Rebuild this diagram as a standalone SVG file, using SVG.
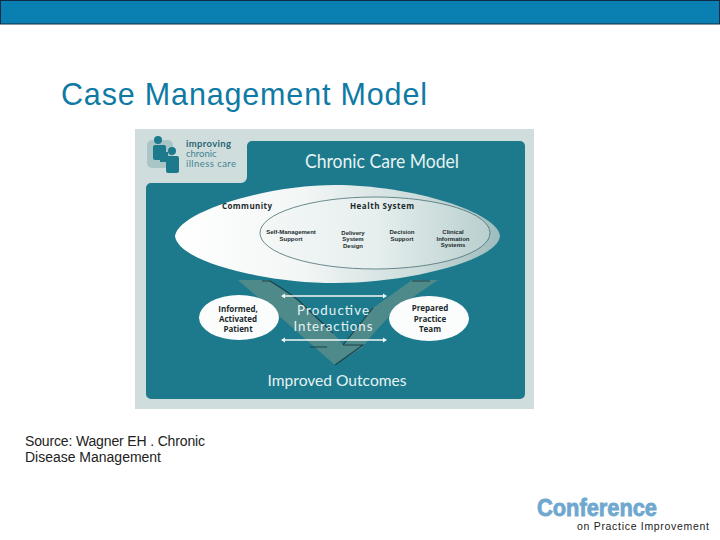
<svg xmlns="http://www.w3.org/2000/svg" width="720" height="540" viewBox="0 0 720 540">
<style>
.s{font-family:"Liberation Sans",Arial,sans-serif}
.l{font-family:Lato,"Open Sans",sans-serif}
.b{font-family:"Open Sans","Liberation Sans",sans-serif;font-weight:700;fill:#1c2a2c;text-anchor:middle}
.t{font-family:"Liberation Sans",Arial,sans-serif;font-weight:700;fill:#1c2a2c;text-anchor:middle;font-size:6px}
.w{font-family:Lato,"Open Sans",sans-serif;fill:#e6f2f3;text-anchor:middle}
.cr{fill:none;stroke:#1c3f48;stroke-width:1.100}
</style>
<defs>
<linearGradient id="g" x1="0" x2="1" y1="0" y2="0"><stop offset="0" stop-color="#ffffff"/><stop offset="0.4" stop-color="#f2f6f5"/><stop offset="0.75" stop-color="#cbdcdb"/><stop offset="1" stop-color="#9dbcbd"/></linearGradient>
<linearGradient id="g2" x1="0" x2="1" y1="0" y2="0"><stop offset="0" stop-color="#f4f8f7"/><stop offset="0.5" stop-color="#e6efee"/><stop offset="1" stop-color="#b9cfcf"/></linearGradient>
</defs>
<rect x="0.500" y="0.500" width="719" height="23.500" fill="#0a80b2" stroke="#0e2a45" stroke-width="1"/>
<text class="s" x="61" y="104.500" font-size="30.500" fill="#0f7aa5" textLength="366">Case Management Model</text>
<g id="chart">
<rect x="135" y="129" width="399" height="280" fill="#cfdedd"/>
<path d="M252 141H520a5 5 0 0 1 5 5V394a5 5 0 0 1-5 5H151a5 5 0 0 1-5-5V188a5 5 0 0 1 5-5H241a6 6 0 0 0 6-6V146a5 5 0 0 1 5-5z" fill="#1c7a8c"/>
<g id="logo">
<rect x="147" y="140" width="26" height="28" rx="5" fill="#a9c5c6"/>
<circle cx="158" cy="140" r="4" fill="#1c7a8c"/>
<rect x="153" y="145" width="13" height="15" rx="2" fill="#1c7a8c"/>
<rect x="160" y="152" width="8" height="10" fill="#1c7a8c"/>
<circle cx="172" cy="151" r="4" fill="#1c7a8c"/>
<rect x="166" y="156" width="13" height="17" rx="2" fill="#1c7a8c"/>
<text class="l" x="186" y="147" font-size="9.500" font-weight="700" fill="#2a6675" textLength="45">improving</text>
<text class="l" x="186" y="157" font-size="9.500" fill="#3f8290">chronic</text>
<text class="l" x="186" y="167" font-size="9.500" fill="#3f8290" textLength="50">illness care</text>
</g>
<text class="w" x="382" y="168" font-size="19" textLength="154" lengthAdjust="spacingAndGlyphs">Chronic Care Model</text>
<g id="connectors">
<path d="M238 280H268L298 300 333 333 343 345 373 308 412 280H438L397 308 372 335 363 347 335 365Z" fill="#4f8a8a"/>
<path class="cr" d="M262 281H270Q288 292 298 300L333 333M412 281H430M343 345L373 308M343 345H363L335 365M310 347H327"/>
<path d="M283 296H385M283 340H385" fill="none" stroke="#f2f7f7" stroke-width="1.500"/>
<path d="M281 296l4-2.500v5zM387 296l-4-2.500v5zM281 340l4-2.500v5zM387 340l-4-2.500v5z" fill="#f2f7f7"/>
</g>
<g id="community">
<path d="M175 236C178 212 265 185 335 185C410 185 498 212 500 236C498 260 410 283 335 283C265 283 178 262 175 236Z" fill="url(#g)"/>
<text class="b" x="247" y="209" font-size="8" textLength="50">Community</text>
</g>
<g id="health-system">
<ellipse cx="375" cy="233" rx="115" ry="36" fill="url(#g2)" stroke="#4a6f73" stroke-width="0.800"/>
<text class="b" x="382" y="209" font-size="8" textLength="64">Health System</text>
<text class="t" x="291" y="234">Self-Management</text>
<text class="t" x="291" y="240.600">Support</text>
<text class="t" x="353" y="234.500">Delivery</text>
<text class="t" x="353" y="241">System</text>
<text class="t" x="353" y="247.500">Design</text>
<text class="t" x="402" y="234">Decision</text>
<text class="t" x="402" y="240.600">Support</text>
<text class="t" x="453" y="234">Clinical</text>
<text class="t" x="453" y="240.500">Information</text>
<text class="t" x="453" y="247">Systems</text>
</g>
<g id="patient">
<ellipse cx="239" cy="317.500" rx="40" ry="22.500" fill="#fbfdfd"/>
<text class="b" x="238" y="312" font-size="8">Informed,</text>
<text class="b" x="238" y="322" font-size="8">Activated</text>
<text class="b" x="238" y="332" font-size="8">Patient</text>
</g>
<g id="team">
<ellipse cx="429" cy="318.500" rx="40" ry="22.500" fill="#fbfdfd"/>
<text class="b" x="430" y="311" font-size="8">Prepared</text>
<text class="b" x="430" y="322" font-size="8">Practice</text>
<text class="b" x="430" y="332" font-size="8">Team</text>
</g>
<text class="w" x="333" y="315" font-size="13.300" textLength="72">Productive</text>
<text class="w" x="333" y="331" font-size="13.300" textLength="79">Interactions</text>
<text class="w" x="337" y="386" font-size="15.500" textLength="139" lengthAdjust="spacingAndGlyphs">Improved Outcomes</text>
</g>
<text class="s" x="25" y="446" font-size="14" fill="#222" textLength="180">Source: Wagner EH . Chronic</text>
<text class="s" x="25" y="462" font-size="14" fill="#222" textLength="136">Disease Management</text>
<g id="brand">
<text class="s" x="537" y="515.500" font-size="23" font-weight="700" fill="#6fa8cf" stroke="#6fa8cf" stroke-width="0.800" textLength="120" lengthAdjust="spacingAndGlyphs">Conference</text>
<text class="s" x="577" y="530" font-size="10.500" fill="#222" textLength="132">on Practice Improvement</text>
</g>
</svg>
